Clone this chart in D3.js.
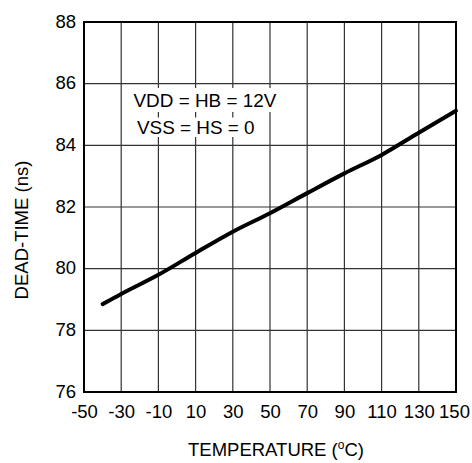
<!DOCTYPE html>
<html><head><meta charset="utf-8">
<script src="https://cdn.jsdelivr.net/npm/d3@7"></script>
<style>body{margin:0;background:#fff}svg{display:block}text{font-family:"Liberation Sans",Arial,sans-serif;fill:#000}</style>
</head><body>
<svg id="c" width="472" height="463"></svg>
<script>
const temperature = [-40, -30, -10, 10, 30, 50, 70, 90, 110, 130, 150];
const deadTime = [78.85, 79.18, 79.80, 80.51, 81.20, 81.80, 82.45, 83.09, 83.69, 84.41, 85.12];
const xTicks = [-50, -30, -10, 10, 30, 50, 70, 90, 110, 130, 150];
const yTicks = [76, 78, 80, 82, 84, 86, 88];
const notes = ["VDD = HB = 12V", "VSS = HS = 0"];

const svg = d3.select("#c");
const m = {l: 84, r: 456, t: 22, b: 392};
const x = d3.scaleLinear().domain([-50, 150]).range([m.l, m.r]);
const y = d3.scaleLinear().domain([76, 88]).range([m.b, m.t]);
const FS = 18.5;

// grid
const g = svg.append("g");
g.selectAll("line.v").data(xTicks).join("line")
  .attr("x1", d => x(d)).attr("x2", d => x(d)).attr("y1", m.t).attr("y2", m.b)
  .attr("stroke", "#333").attr("stroke-width", 1.2);
g.selectAll("line.h").data(yTicks).join("line")
  .attr("y1", d => y(d)).attr("y2", d => y(d)).attr("x1", m.l).attr("x2", m.r)
  .attr("stroke", "#333").attr("stroke-width", 1.2);

// annotation with white backing
const noteX = [133.5, 137], noteY = [106.5, 134], boxTop = [88, 117.5], boxBot = [112, 137];
notes.forEach((t, i) => {
  const tx = svg.append("text").attr("x", noteX[i]).attr("y", noteY[i])
    .attr("font-size", 18.9).text(t);
  const bb = tx.node().getBBox();
  svg.insert("rect", "text").attr("x", bb.x).attr("y", boxTop[i])
    .attr("width", bb.width).attr("height", boxBot[i] - boxTop[i]).attr("fill", "#fff");
});

// frame
svg.append("rect").attr("x", m.l).attr("y", m.t).attr("width", m.r - m.l).attr("height", m.b - m.t)
  .attr("fill", "none").attr("stroke", "#000").attr("stroke-width", 2);

// axes labels
const xa = d3.axisBottom(x).tickValues(xTicks).tickSize(0).tickPadding(0).tickFormat(d => String(d));
const xg = svg.append("g").attr("transform", `translate(0,${m.b})`).call(xa);
xg.select(".domain").remove();
xg.selectAll("text").attr("font-size", FS).attr("dy", null).attr("y", 26).attr("fill", "#000")
  .attr("dx", d => d === 150 ? -2 : 0);

const ya = d3.axisLeft(y).tickValues(yTicks).tickSize(0).tickPadding(0).tickFormat(d => String(d));
const yg = svg.append("g").attr("transform", `translate(${m.l},0)`).call(ya);
yg.select(".domain").remove();
yg.selectAll("text").attr("font-size", FS).attr("x", -8).attr("dy", null).attr("y", 5).attr("fill", "#000");

// data line
const pts = temperature.map((t, i) => [t, deadTime[i]]);
svg.append("path").datum(pts)
  .attr("d", d3.line().x(d => x(d[0])).y(d => y(d[1])).curve(d3.curveMonotoneX))
  .attr("fill", "none").attr("stroke", "#000").attr("stroke-width", 4).attr("stroke-linecap", "round");

// titles
const xt = svg.append("text").attr("x", 276).attr("y", 456).attr("text-anchor", "middle").attr("font-size", FS);
xt.append("tspan").text("TEMPERATURE (");
xt.append("tspan").attr("font-size", 12).attr("dy", -7).text("o");
xt.append("tspan").attr("dy", 7).text("C)");

svg.append("text").attr("transform", "translate(28,230) rotate(-90)").attr("text-anchor", "middle")
  .attr("font-size", FS).text("DEAD-TIME (ns)");
</script>
</body></html>
